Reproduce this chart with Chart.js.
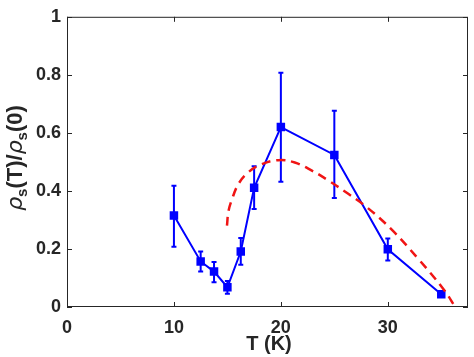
<!DOCTYPE html>
<html>
<head>
<meta charset="utf-8">
<script src="https://cdn.jsdelivr.net/npm/chart.js@4"></script>
<style>
  html, body { margin: 0; padding: 0; background: #fff; }
  #wrap { width: 474px; height: 357px; }
</style>
</head>
<body>
<div id="wrap"><canvas id="rhoChart"></canvas></div>
<script>
// measured points, T in K
let temps = [10, 12.5, 13.75, 15, 16.25, 17.5, 20, 25, 30, 35]
let rho = [0.315, 0.157, 0.122, 0.068, 0.191, 0.411, 0.62, 0.524, 0.199, 0.044]
let errHi = [0.418, 0.191, 0.155, 0.09, 0.238, 0.485, 0.807, 0.676, 0.236, 0.052]
let errLo = [0.208, 0.122, 0.085, 0.046, 0.146, 0.338, 0.432, 0.376, 0.16, 0.036]

// red dashed curve
let fitT = [14.96, 15.1, 15.42, 16.05, 16.98, 18.2, 19.77, 21.3, 22.9, 24.4, 26.3, 28.0, 30.3, 32.8, 35.3, 36.3]
let fitRho = [0.28, 0.33, 0.37, 0.425, 0.465, 0.492, 0.506, 0.498, 0.47, 0.437, 0.39, 0.345, 0.269, 0.168, 0.057, 0.0]

let xTicks = [0, 10, 20, 30]
let yTicks = [0, 0.2, 0.4, 0.6, 0.8, 1]

let ink = '#262626'
let blue = '#0000ff'
let red = '#f01414'
let sans = '"Liberation Sans", Arial, sans-serif'

/* ---- error bars, inward ticks, box and axis titles ---- */
let extras = {
  id: 'extras',
  beforeDatasetsDraw(chart) {
    let ctx = chart.ctx
    let x = chart.scales.x, y = chart.scales.y
    ctx.save()
    ctx.strokeStyle = blue
    ctx.lineWidth = 2
    temps.forEach((t, i) => {
      let px = x.getPixelForValue(t)
      let top = y.getPixelForValue(errHi[i])
      let bot = y.getPixelForValue(errLo[i])
      ctx.beginPath()
      ctx.moveTo(px, top); ctx.lineTo(px, bot)
      ctx.moveTo(px - 2.5, top); ctx.lineTo(px + 2.5, top)
      ctx.moveTo(px - 2.5, bot); ctx.lineTo(px + 2.5, bot)
      ctx.stroke()
    })
    ctx.restore()
  },
  afterDraw(chart) {
    let ctx = chart.ctx
    let a = chart.chartArea
    let x = chart.scales.x, y = chart.scales.y
    ctx.save()
    ctx.strokeStyle = ink
    ctx.lineWidth = 1
    ctx.strokeRect(a.left + 0.5, a.top + 0.5, a.right - a.left - 1, a.bottom - a.top - 1)
    ctx.beginPath()
    xTicks.forEach(v => {
      let px = Math.round(x.getPixelForValue(v)) + 0.5
      ctx.moveTo(px, a.bottom); ctx.lineTo(px, a.bottom - 5)
      ctx.moveTo(px, a.top); ctx.lineTo(px, a.top + 5)
    })
    yTicks.forEach(v => {
      let py = Math.round(y.getPixelForValue(v)) + 0.5
      ctx.moveTo(a.left, py); ctx.lineTo(a.left + 5, py)
      ctx.moveTo(a.right, py); ctx.lineTo(a.right - 5, py)
    })
    ctx.stroke()

    // x title
    ctx.fillStyle = ink
    ctx.font = 'bold 20px ' + sans
    ctx.textAlign = 'center'
    ctx.textBaseline = 'middle'
    ctx.fillText('T (K)', 269, 344)

    // y title with subscripts
    ctx.translate(16, 158)
    ctx.rotate(-Math.PI / 2)
    let parts = [
      ['ρ', 'italic 22px "DejaVu Sans", sans-serif', 0],
      ['s', 'bold 15px ' + sans, 7],
      ['(T)/', 'bold 22px ' + sans, 0],
      ['ρ', 'italic 22px "DejaVu Sans", sans-serif', 0],
      ['s', 'bold 15px ' + sans, 7],
      ['(0)', 'bold 22px ' + sans, 0]
    ]
    let total = 0
    parts.forEach(p => { ctx.font = p[1]; total += ctx.measureText(p[0]).width })
    let cx = -total / 2
    ctx.textAlign = 'left'
    parts.forEach(p => {
      ctx.font = p[1]
      ctx.fillText(p[0], cx, p[2])
      cx += ctx.measureText(p[0]).width
    })
    ctx.restore()
  }
}

let chart = new Chart(document.getElementById('rhoChart'), {
  type: 'scatter',
  data: {
    datasets: [
      {
        label: 'fit',
        data: fitT.map((t, i) => ({ x: t, y: fitRho[i] })),
        showLine: true,
        borderColor: red,
        borderWidth: 2.5,
        borderDash: [9, 6],
        pointRadius: 0,
        tension: 0.4,
        order: 0
      },
      {
        label: 'data',
        data: temps.map((t, i) => ({ x: t, y: rho[i] })),
        showLine: true,
        borderColor: blue,
        backgroundColor: blue,
        borderWidth: 2,
        pointStyle: 'rect',
        pointRadius: 6,
        pointBorderWidth: 0,
        order: 1
      }
    ]
  },
  options: {
    responsive: true,
    maintainAspectRatio: false,
    animation: false,
    layout: { padding: { top: 8, right: 3, left: 0, bottom: 0 } },
    plugins: { legend: { display: false }, tooltip: { enabled: false } },
    scales: {
      x: {
        type: 'linear',
        min: 0,
        max: 37.5,
        afterBuildTicks: s => { s.ticks = xTicks.map(v => ({ value: v })) },
        afterFit: s => { s.height = 50 },
        grid: { display: false, drawTicks: false },
        border: { display: false },
        ticks: {
          padding: 10,
          color: ink,
          font: { family: sans, size: 18, weight: 'bold' },
          maxRotation: 0
        }
      },
      y: {
        min: 0,
        max: 1,
        afterBuildTicks: s => { s.ticks = yTicks.map(v => ({ value: v })) },
        afterFit: s => { s.width = 67 },
        grid: { display: false, drawTicks: false },
        border: { display: false },
        ticks: {
          padding: 6,
          color: ink,
          font: { family: sans, size: 18, weight: 'bold' },
          callback: v => String(+v.toFixed(1))
        }
      }
    }
  },
  plugins: [extras]
})
</script>
</body>
</html>
